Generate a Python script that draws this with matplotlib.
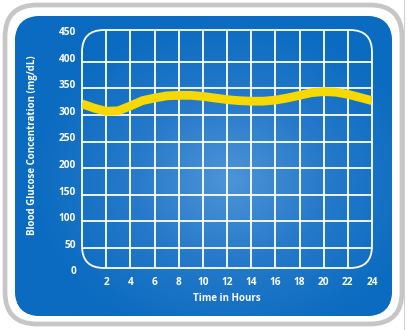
import numpy as np
import matplotlib
matplotlib.use('Agg')
import matplotlib.pyplot as plt
from matplotlib.patches import FancyBboxPatch
from matplotlib.colors import LinearSegmentedColormap

plt.rcParams['font.family'] = ['Open Sans', 'DejaVu Sans']

# Blood glucose over a day
hours = [0, 1, 2, 3, 4, 5, 6, 7, 8, 9, 10, 11, 12,
         13, 14, 15, 16, 17, 18, 19, 20, 21, 22, 23, 24]
glucose = [321, 313, 307, 308, 317, 327, 332, 336, 337, 337, 335, 332, 329,
           327, 326, 326, 328, 332, 337, 342, 344, 343, 339, 333, 327]

x_ticks = [2, 4, 6, 8, 10, 12, 14, 16, 18, 20, 22, 24]
y_ticks = [0, 50, 100, 150, 200, 250, 300, 350, 400, 450]
x_label = 'Time in Hours'
y_label = 'Blood Glucose Concentration (mg/dL)'

W, H = 411, 330
fig = plt.figure(figsize=(W / 100, H / 100), dpi=100)
fig.patch.set_facecolor('white')

# background layer in pixel coordinates
bg = fig.add_axes([0, 0, 1, 1])
bg.set_xlim(0, W)
bg.set_ylim(H, 0)
bg.axis('off')

outer = FancyBboxPatch((5, 5), 397, 319, boxstyle='round,pad=0,rounding_size=32',
                       facecolor='white', edgecolor='#c6c6c6', linewidth=3.4)
bg.add_patch(outer)
bg.plot([404, 404], [0, H], color='#d0d0d0', lw=0.8)

panel = FancyBboxPatch((15, 16), 377, 300, boxstyle='round,pad=0,rounding_size=26',
                       facecolor='#0a6bc0', edgecolor='none')
bg.add_patch(panel)

# radial light spot in the middle of the blue panel
gx, gy = np.meshgrid(np.linspace(15, 392, 300), np.linspace(16, 316, 240))
r = np.sqrt(((gx - 228) / 200) ** 2 + ((gy - 180) / 165) ** 2)
cmap = LinearSegmentedColormap.from_list('blue', ['#4e94d7', '#2579c9', '#0a6bc0'])
img = bg.imshow(np.clip(r, 0, 1), cmap=cmap, vmin=0, vmax=1,
                extent=(15, 392, 316, 16), interpolation='bilinear', aspect='auto',
                zorder=1.5)
img.set_clip_path(panel)

frame = FancyBboxPatch((82, 30), 290, 238, boxstyle='round,pad=0,rounding_size=22',
                       facecolor='none', edgecolor='white', linewidth=1.3, zorder=3)
bg.add_patch(frame)

# chart
ax = fig.add_axes([82 / W, (H - 268) / H, 290 / W, 238 / H])
ax.patch.set_alpha(0)
ax.set_xlim(0, 24)
ax.set_ylim(12, 460)
for s in ax.spines.values():
    s.set_visible(False)
ax.set_xticks([])
ax.set_yticks([])

for xv in x_ticks[:-1]:
    ln = ax.axvline(xv, color='white', lw=1.3)
    ln.set_clip_path(frame)
for yv in y_ticks[1:-1]:
    ln = ax.axhline(yv, color='white', lw=1.3)
    ln.set_clip_path(frame)

ax.plot(hours, glucose, color='#f7d800', lw=6.3, solid_joinstyle='round',
        solid_capstyle='butt', zorder=5)

for yv in y_ticks:
    ax.text(-0.02, yv + 5, str(yv), transform=ax.get_yaxis_transform(),
            ha='right', va='center', color='white', fontsize=7.3, fontweight='bold',
            clip_on=False)
for xv in x_ticks:
    ax.text(xv, -0.063, str(xv), transform=ax.get_xaxis_transform(),
            ha='center', va='center', color='white', fontsize=7.3, fontweight='bold',
            clip_on=False)

ax.text(12, -0.13, x_label, transform=ax.get_xaxis_transform(), ha='center',
        va='center', color='white', fontsize=7, fontweight='bold', clip_on=False)
ax.text(-0.169, 0.517, y_label, transform=ax.transAxes, rotation=90, ha='center',
        va='center', color='white', fontsize=7, fontweight='bold', clip_on=False)

fig.savefig('out.png', dpi=100, facecolor='white')
